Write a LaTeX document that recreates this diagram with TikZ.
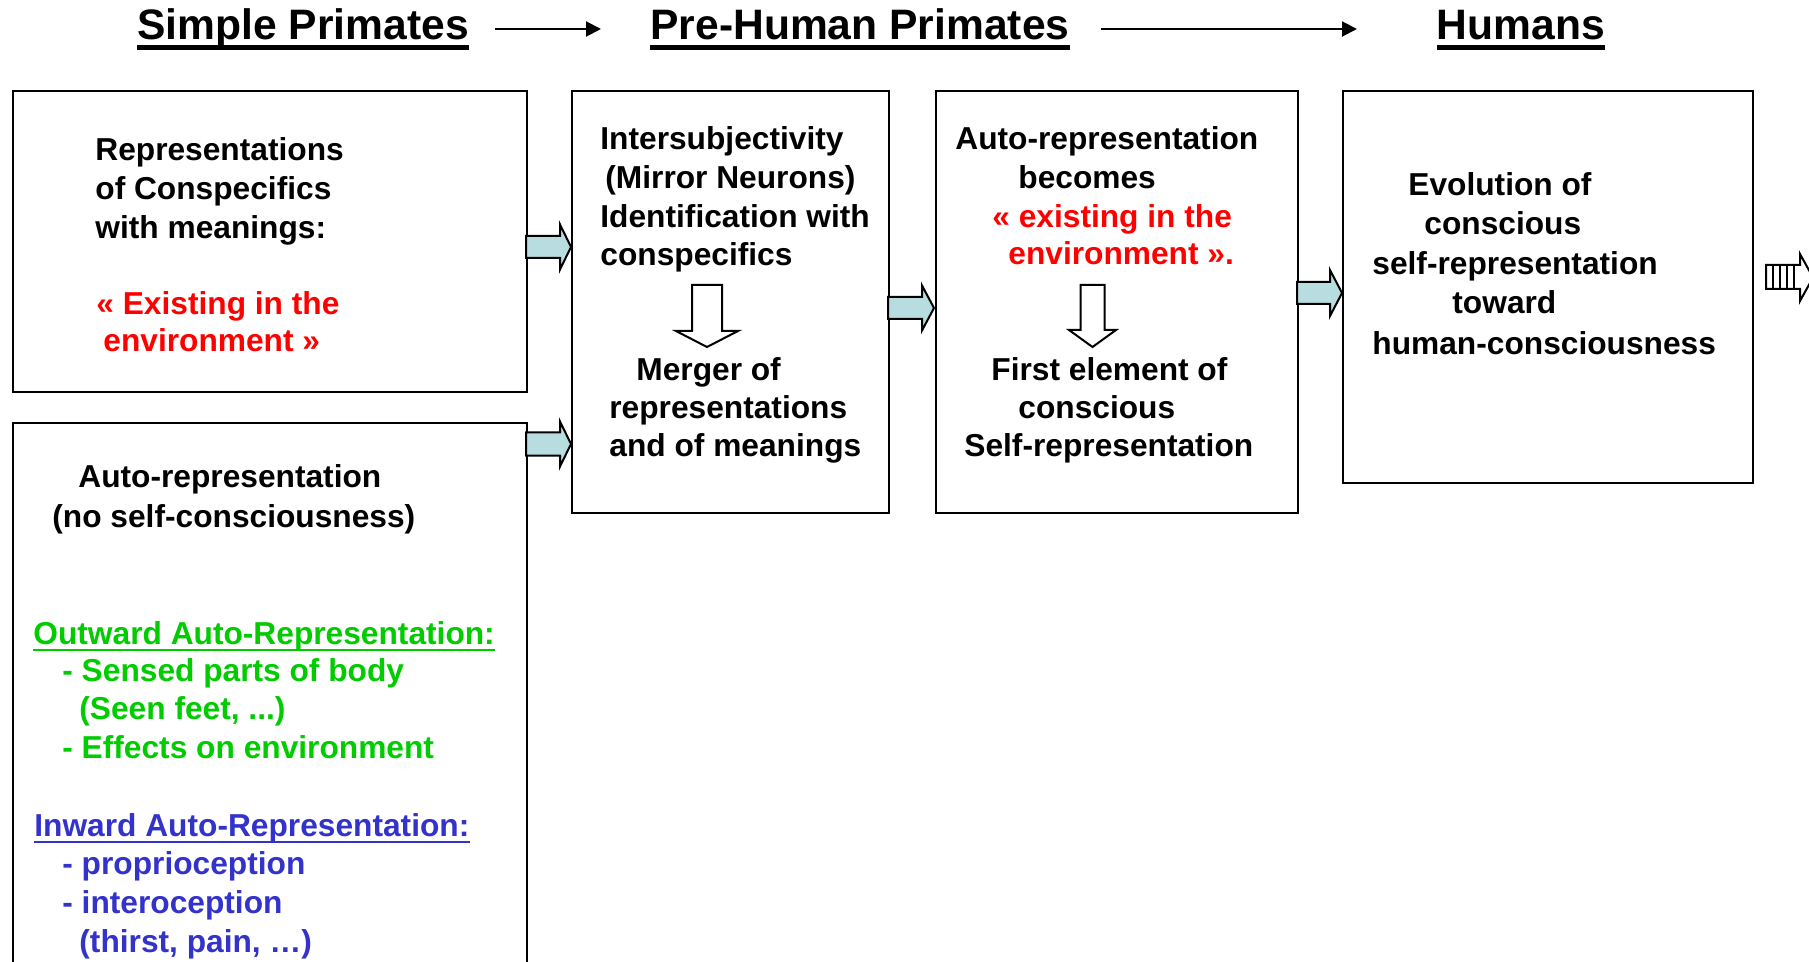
\documentclass[tikz,border=0pt]{standalone}
\usepackage{fontspec}
\setmainfont{Liberation Sans}
\usetikzlibrary{arrows.meta}
\definecolor{myred}{RGB}{255,0,0}
\definecolor{mygreen}{RGB}{0,204,0}
\definecolor{myblue}{RGB}{51,51,204}
\definecolor{arrowfill}{RGB}{183,221,224}
\newcommand\rblockarrow[6]{%
  \draw[barrow] ({#1},{#4-#5}) -- ({#2},{#4-#5}) -- ({#2},{#4-#6}) -- ({#3},{#4})
    -- ({#2},{#4+#6}) -- ({#2},{#4+#5}) -- ({#1},{#4+#5}) -- cycle;}
\newcommand\dblockarrow[6]{%
  \draw[darrow] ({#1-#2},{#4}) -- ({#1+#2},{#4}) -- ({#1+#2},{#5}) -- ({#1+#3},{#5})
    -- ({#1},{#6}) -- ({#1-#3},{#5}) -- ({#1-#2},{#5}) -- cycle;}
\begin{document}
\begin{tikzpicture}[x=0.5pt,y=-0.5pt,
  box/.style={draw,line width=1pt,inner sep=0pt,anchor=north west},
  txt/.style={font=\fontsize{15.85}{19}\selectfont\bfseries,inner sep=0pt,anchor=base west,yshift=-0.75pt},
  head/.style={font=\fontsize{21.3}{25}\selectfont\bfseries,inner sep=0pt,anchor=base},
  barrow/.style={draw,line width=1pt,fill=arrowfill,line join=miter},
  darrow/.style={draw,line width=1pt,fill=white,line join=miter},
  thinarrow/.style={line width=1pt,-{Triangle[length=7.5pt,width=7.5pt]}},
  uline/.style={line width=2.5pt},
  sline/.style={line width=1pt}]
\useasboundingbox (0,0) rectangle (1809,962);
\clip (0,0) rectangle (1809,962);
\fill[white] (0,0) rectangle (1809,962);

% headers
\node[head] (h1) at (303,40) {Simple Primates};
\node[head] (h2) at (860,40) {Pre-Human Primates};
\node[head] (h3) at (1521,40) {Humans};
\draw[uline] ([yshift=-4pt]h1.base west) -- ([yshift=-4pt]h1.base east);
\draw[uline] ([yshift=-4pt]h2.base west) -- ([yshift=-4pt]h2.base east);
\draw[uline] ([yshift=-4pt]h3.base west) -- ([yshift=-4pt]h3.base east);
\coordinate (a1s) at (495,29);
\coordinate (a1e) at (601,29);
\coordinate (a2s) at (1101,29);
\coordinate (a2e) at (1357,29);
\draw[thinarrow] (a1s) -- (a1e);
\draw[thinarrow] (a2s) -- (a2e);

% boxes
\node[box,minimum width=257.25pt,minimum height=150.5pt] (b1) at (11.5,90) {};
\node[box,minimum width=257.25pt,minimum height=300pt] (b2) at (11.5,422) {};
\node[box,minimum width=158.5pt,minimum height=211pt] (b3) at (571,90) {};
\node[box,minimum width=181.25pt,minimum height=211pt] (b4) at (934.5,90) {};
\node[box,minimum width=205pt,minimum height=196pt] (b5) at (1342,90) {};

% block arrows between boxes
\rblockarrow{526}{560}{571}{247}{11}{22.5}
\rblockarrow{526}{560}{571}{444}{11.5}{22.5}
\rblockarrow{888}{922}{934}{308}{11}{22.5}
\rblockarrow{1297}{1330}{1342}{293}{11}{23}

% down arrows
\dblockarrow{707}{15}{31}{285}{331}{347}
\dblockarrow{1092.5}{12}{23.5}{285}{330}{347}

% striped arrow
\draw[line width=1pt,fill=white,line join=miter] (1766,265) -- (1800,265) -- (1800,254) -- (1813,277.5)
  -- (1800,301) -- (1800,289) -- (1766,289) -- cycle;
\foreach \sx in {1773,1780,1787,1794} \draw[line width=0.7pt] (\sx,265) -- (\sx,289);

% box 1
\node[txt] (t11) at (95,159) {Representations};
\node[txt] (t12) at (95,198) {of Conspecifics};
\node[txt] (t13) at (95,237) {with meanings:};
\node[txt,text=myred] (t14) at (96,313) {« Existing in the};
\node[txt,text=myred] (t15) at (103,350) {environment »};

% box 2
\node[txt] (t21) at (78,486) {Auto-representation};
\node[txt] (t22) at (52,526) {(no self-consciousness)};
\node[txt,text=mygreen] (t23) at (33,643) {Outward Auto-Representation:};
\draw[sline,mygreen] ([yshift=-2.5pt]t23.base west) -- ([yshift=-2.5pt]t23.base east);
\node[txt,text=mygreen] (t24) at (62,680) {- Sensed parts of body};
\node[txt,text=mygreen] (t25) at (79,718) {(Seen feet, ...)};
\node[txt,text=mygreen] (t26) at (62,757) {- Effects on environment};
\node[txt,text=myblue] (t27) at (34,835) {Inward Auto-Representation:};
\draw[sline,myblue] ([yshift=-2.5pt]t27.base west) -- ([yshift=-2.5pt]t27.base east);
\node[txt,text=myblue] (t28) at (62,873) {- proprioception};
\node[txt,text=myblue] (t29) at (62,912) {- interoception};
\node[txt,text=myblue] (t2a) at (79,951) {(thirst, pain, …)};

% box 3
\node[txt] (t31) at (600,148) {Intersubjectivity};
\node[txt] (t32) at (605,187) {(Mirror Neurons)};
\node[txt] (t33) at (600,226) {Identification with};
\node[txt] (t34) at (600,264) {conspecifics};
\node[txt] (t35) at (636,379) {Merger of};
\node[txt] (t36) at (609,417) {representations};
\node[txt] (t37) at (609,455) {and of meanings};

% box 4
\node[txt] (t41) at (955,148) {Auto-representation};
\node[txt] (t42) at (1018,187) {becomes};
\node[txt,text=myred] (t43) at (992,226) {« existing in the};
\node[txt,text=myred] (t44) at (1008,263) {environment ».};
\node[txt] (t45) at (991,379) {First element of};
\node[txt] (t46) at (1018,417) {conscious};
\node[txt] (t47) at (964,455) {Self-representation};

% box 5
\node[txt] (t51) at (1408,194) {Evolution of};
\node[txt] (t52) at (1424,233) {conscious};
\node[txt] (t53) at (1372,273) {self-representation};
\node[txt] (t54) at (1452,312) {toward};
\node[txt] (t55) at (1372,353) {human-consciousness};
\end{tikzpicture}
\end{document}
